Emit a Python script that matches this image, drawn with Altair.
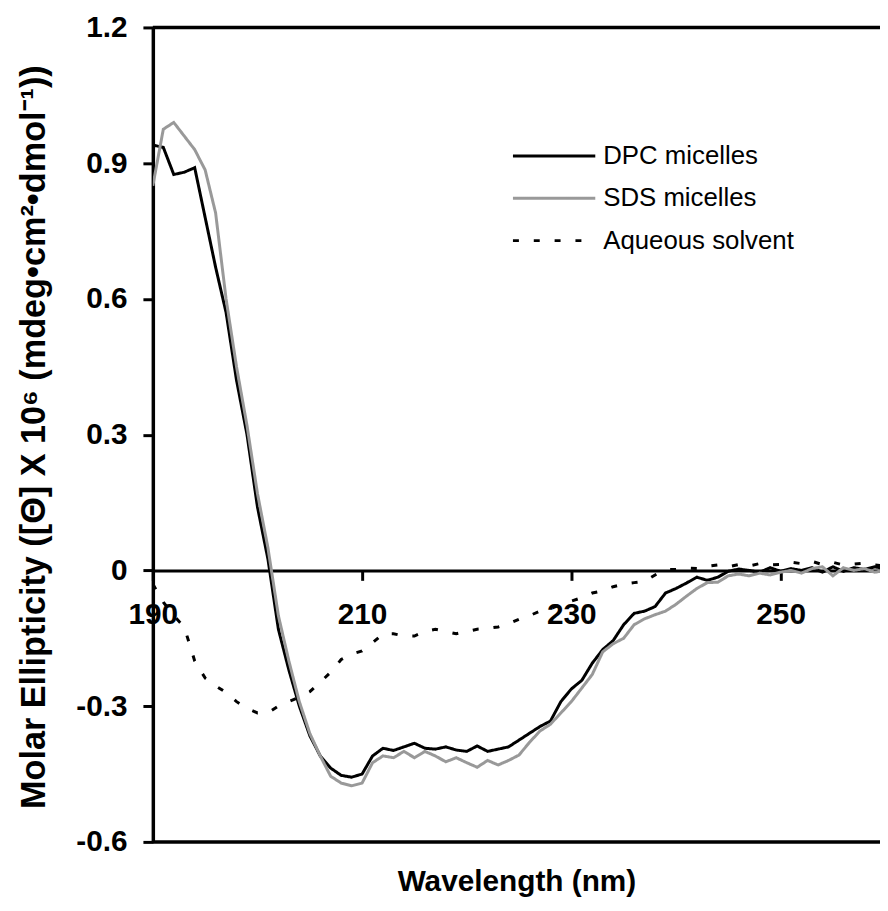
import altair as alt
import pandas as pd

# ---- data ----
wavelength = list(range(190, 261))

dpc = [0.94, 0.935, 0.875, 0.88, 0.89, 0.78, 0.67, 0.57, 0.42, 0.30,
       0.14, 0.025, -0.13, -0.22, -0.30, -0.365, -0.41, -0.437, -0.453, -0.457,
       -0.45, -0.41, -0.393, -0.398, -0.39, -0.382, -0.393, -0.395, -0.39, -0.397,
       -0.40, -0.388, -0.40, -0.395, -0.39, -0.375, -0.36, -0.345, -0.333, -0.29,
       -0.262, -0.243, -0.205, -0.175, -0.155, -0.12, -0.095, -0.09, -0.08, -0.05,
       -0.04, -0.028, -0.015, -0.022, -0.015, -0.002, 0.003, 0.0, -0.004, 0.006,
       -0.002, 0.004, 0.0, 0.006, -0.004, 0.008, -0.002, 0.006, 0.002, 0.008,
       0.004]

sds = [0.85, 0.975, 0.99, 0.96, 0.93, 0.885, 0.79, 0.60, 0.45, 0.32,
       0.17, 0.05, -0.10, -0.20, -0.29, -0.36, -0.41, -0.455, -0.47, -0.476,
       -0.47, -0.425, -0.41, -0.414, -0.40, -0.414, -0.40, -0.41, -0.423, -0.414,
       -0.425, -0.435, -0.42, -0.43, -0.42, -0.408, -0.38, -0.355, -0.34, -0.315,
       -0.29, -0.26, -0.23, -0.18, -0.162, -0.15, -0.12, -0.107, -0.098, -0.09,
       -0.075, -0.057, -0.04, -0.027, -0.026, -0.012, -0.008, -0.012, -0.006, -0.01,
       -0.004, 0.0, -0.006, 0.004, 0.008, -0.012, 0.006, 0.0, 0.004, -0.004,
       0.0]

aqueous = [-0.03, -0.07, -0.10, -0.125, -0.20, -0.238, -0.255, -0.27, -0.29, -0.305,
           -0.315, -0.315, -0.30, -0.29, -0.28, -0.268, -0.247, -0.225, -0.197, -0.185,
           -0.178, -0.16, -0.14, -0.14, -0.145, -0.145, -0.135, -0.13, -0.135, -0.14,
           -0.135, -0.13, -0.128, -0.125, -0.118, -0.108, -0.10, -0.09, -0.085, -0.075,
           -0.068, -0.06, -0.05, -0.045, -0.036, -0.03, -0.027, -0.024, -0.01, 0.002,
           0.002, 0.005, 0.004, 0.009, 0.012, 0.008, 0.013, 0.01, 0.015, 0.012,
           0.013, 0.018, 0.015, 0.02, 0.013, 0.018, 0.012, 0.014, 0.016, 0.012,
           0.01]

series_names = ["DPC micelles", "SDS micelles", "Aqueous solvent"]
series_colors = ["#000000", "#999999", "#000000"]
series_dashes = [[1, 0], [1, 0], [6, 15]]

x_ticks = [190, 210, 230, 250]
y_ticks = [-0.6, -0.3, 0, 0.3, 0.6, 0.9, 1.2]
frame_values = [1.2, -0.6]

X_MIN, X_MAX = 190, 259.5
Y_MIN, Y_MAX = -0.6, 1.2

rows = []
for name, vals in zip(series_names, [dpc, sds, aqueous]):
    for w, v in zip(wavelength, vals):
        rows.append({"wavelength": w, "value": v, "series": name})
df = pd.DataFrame(rows)
frame_df = pd.DataFrame({"value": frame_values})

# ---- layout ----
W, H = 733, 821
PAD_L, PAD_T = 146, 16
SVG_H = 894
FONT = "Liberation Sans"
zero_offset = -H * (0 - Y_MIN) / (Y_MAX - Y_MIN)
y_title = "Molar Ellipticity ([Θ] X 10⁶ (mdeg•cm²•dmol⁻¹))"

yscale = alt.Scale(domain=[Y_MIN, Y_MAX], nice=False, zero=False)
xscale = alt.Scale(domain=[X_MIN, X_MAX], nice=False, zero=False)

yaxis = alt.Axis(
    values=y_ticks,
    labelExpr="abs(datum.value) < 1e-9 ? '0' : (datum.value < 0 ? '-' + format(-datum.value, '.1f') : format(datum.value, '.1f'))",
    grid=False, domainWidth=3.5, domainColor="black",
    tickColor="black", tickWidth=3, tickSize=10,
    labelFont=FONT, labelFontWeight="bold", labelFontSize=30, labelColor="black",
    labelPadding=16, labelFlush=False, labelOverlap=False,
    titleFont=FONT, titleFontWeight="bold", titleFontSize=34.5, titleColor="black",
    titleX=-119, titleY=H / 2 + 2, titleAngle=270, titleBaseline="middle", titleAlign="center",
)

xaxis = alt.Axis(
    values=x_ticks, format="d", orient="bottom", offset=zero_offset,
    grid=False, domainWidth=3, domainColor="black",
    tickColor="black", tickWidth=3, tickSize=10,
    labelFont=FONT, labelFontWeight="bold", labelFontSize=30, labelColor="black",
    labelPadding=20, labelFlush=False, labelOverlap=False, labelBound=False,
    titleFont=FONT, titleFontWeight="bold", titleFontSize=30, titleColor="black",
    titleY=314, titleBaseline="middle",
)

legend = alt.Legend(
    orient="none", legendX=382, legendY=107, title=None,
    symbolType="M-2,0L2,0", symbolSize=1722, symbolStrokeWidth=3,
    labelFont=FONT, labelFontSize=26, labelColor="black", labelOffset=27,
    labelLimit=0, rowPadding=6.7, padding=0,
)

lines = alt.Chart(df).mark_line(strokeWidth=3, clip=True).encode(
    x=alt.X("wavelength:Q", scale=xscale, axis=xaxis, title="Wavelength (nm)"),
    y=alt.Y("value:Q", scale=yscale, axis=yaxis, title=y_title),
    color=alt.Color("series:N", sort=series_names,
                    scale=alt.Scale(domain=series_names, range=series_colors),
                    legend=legend),
    strokeDash=alt.StrokeDash("series:N", sort=series_names,
                              scale=alt.Scale(domain=series_names, range=series_dashes),
                              legend=legend),
    order=alt.Order("wavelength:Q"),
)

frame = alt.Chart(frame_df).mark_rule(strokeWidth=3.5, color="black").encode(
    y=alt.Y("value:Q", scale=yscale, axis=yaxis, title=y_title),
)

chart = alt.layer(lines, frame).properties(
    width=W, height=H,
    autosize=alt.AutoSizeParams(type="none"),
    padding={"left": PAD_L, "top": PAD_T, "right": 0, "bottom": SVG_H - PAD_T - H},
).configure_view(stroke=None).configure(background="white")

chart.save("out.html", embed_options={"renderer": "svg", "actions": False})
